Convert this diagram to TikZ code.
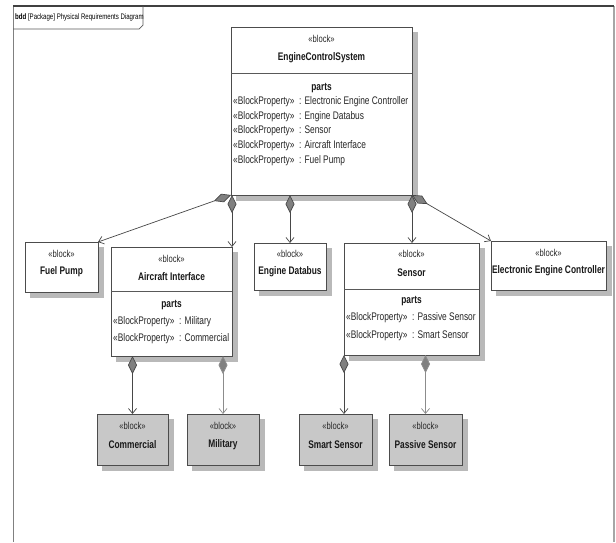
\documentclass[tikz,border=0pt]{standalone}
\usepackage{fontspec}
\setmainfont{Liberation Sans}[FakeStretch=0.76]
\usetikzlibrary{arrows.meta}
\definecolor{shadowgray}{RGB}{185,185,185}
\definecolor{leafgray}{RGB}{200,200,200}
\begin{document}
\begin{tikzpicture}[x=1pt,y=-1pt,
  blk/.style={draw=black!70, line width=0.9pt, fill=white, anchor=north west,
    inner sep=0pt, outer sep=0pt},
  gblk/.style={blk, fill=leafgray},
  shadowline/.style={draw=shadowgray, line width=5.5pt, line cap=butt},
  st/.style={font=\fontsize{10}{11}\selectfont, inner sep=0pt, text=black!85},
  ti/.style={font=\fontsize{11}{12}\selectfont\bfseries, inner sep=0pt, text=black!90},
  pr/.style={font=\fontsize{11}{12}\selectfont, inner sep=0pt, anchor=west, text=black!85},
  sepline/.style={draw=black!65, line width=0.8pt},
  comp/.style={draw=black!72, line width=0.7pt,
    {Diamond[length=18pt,width=9pt,fill=black!50]}-{Straight Barb[length=5pt,width=8pt]}},
  compl/.style={comp, draw=black!45}
]
\useasboundingbox (0,0) rectangle (616,542);
% frame
\draw[black!50, line width=1pt] (13,6) -- (13,542);
\draw[black!35, line width=1.2pt] (614,6) -- (614,542);
\draw[black!75, line width=1.2pt] (13,6) -- (614,6);
\draw[black!65, line width=0.7pt] (13,29) -- (139,29) -- (143,25) -- (143,6);
\node[font=\fontsize{8}{9}\selectfont, anchor=west, inner sep=0pt] (tab) at (15,17.5) {\textbf{bdd} [Package] Physical Requirements Diagram};

% EngineControlSystem
\node[blk, minimum width=181pt, minimum height=168pt] (ecs) at (231,27) {};
\node[st] (ecs1) at (321.5,39) {«block»};
\node[ti] (ecs2) at (321.5,58) {EngineControlSystem};
\draw[sepline] (ecs.west |- 0,73) -- (ecs.east |- 0,73);
\node[ti] (ecs3) at (321.5,88) {parts};
\node[pr] (ecs4) at (233,102) {«BlockProperty»\ \ : Electronic Engine Controller};
\node[pr] (ecs5) at (233,117) {«BlockProperty»\ \ : Engine Databus};
\node[pr] (ecs6) at (233,131) {«BlockProperty»\ \ : Sensor};
\node[pr] (ecs7) at (233,146) {«BlockProperty»\ \ : Aircraft Interface};
\node[pr] (ecs8) at (233,161) {«BlockProperty»\ \ : Fuel Pump};

% Fuel Pump
\node[blk, minimum width=73pt, minimum height=50pt] (fp) at (25,242) {};
\node[st] (fp1) at (61.5,254) {«block»};
\node[ti] (fp2) at (61.5,272) {Fuel Pump};

% Aircraft Interface
\node[blk, minimum width=121pt, minimum height=109pt] (ai) at (111,247) {};
\node[st] (ai1) at (171.5,259) {«block»};
\node[ti] (ai2) at (171.5,277) {Aircraft Interface};
\draw[sepline] (ai.west |- 0,291) -- (ai.east |- 0,291);
\node[ti] (ai3) at (171.5,305) {parts};
\node[pr] (ai4) at (113,322) {«BlockProperty»\ \ : Military};
\node[pr] (ai5) at (113,339) {«BlockProperty»\ \ : Commercial};

% Engine Databus
\node[blk, minimum width=72pt, minimum height=47pt] (ed) at (254,243) {};
\node[st] (ed1) at (290,254) {«block»};
\node[ti] (ed2) at (290,272) {Engine Databus};

% Sensor
\node[blk, minimum width=135pt, minimum height=112pt] (sen) at (344,243) {};
\node[st] (sen1) at (411.5,254) {«block»};
\node[ti] (sen2) at (411.5,273) {Sensor};
\draw[sepline] (sen.west |- 0,289) -- (sen.east |- 0,289);
\node[ti] (sen3) at (411.5,301) {parts};
\node[pr] (sen4) at (346,318) {«BlockProperty»\ \ : Passive Sensor};
\node[pr] (sen5) at (346,336) {«BlockProperty»\ \ : Smart Sensor};

% Electronic Engine Controller
\node[blk, minimum width=115pt, minimum height=49pt] (eec) at (491,241) {};
\node[st] (eec1) at (548.5,253) {«block»};
\node[ti] (eec2) at (548.5,271) {Electronic Engine Controller};

% grey leaf blocks
\node[gblk, minimum width=71pt, minimum height=51pt] (com) at (97,414) {};
\node[st] (com1) at (132.5,426) {«block»};
\node[ti] (com2) at (132.5,445) {Commercial};

\node[gblk, minimum width=72pt, minimum height=51pt] (mil) at (187,414) {};
\node[st] (mil1) at (223,426) {«block»};
\node[ti] (mil2) at (223,445) {Military};

\node[gblk, minimum width=73pt, minimum height=51pt] (sms) at (299,414) {};
\node[st] (sms1) at (335.5,426) {«block»};
\node[ti] (sms2) at (335.5,445) {Smart Sensor};

\node[gblk, minimum width=73pt, minimum height=51pt] (pss) at (389,414) {};
\node[st] (pss1) at (425.5,426) {«block»};
\node[ti] (pss2) at (425.5,445) {Passive Sensor};

% drop shadows as L-shaped strips along the bottom and right edges
\foreach \b in {ecs,fp,ai,ed,sen,eec,com,mil,sms,pss} {
  \draw[shadowline] ([xshift=5pt,yshift=-3.3pt]\b.south west) -- ([xshift=3.3pt,yshift=-3.3pt]\b.south east)
     -- ([xshift=3.3pt,yshift=-5pt]\b.north east);
}

% connectors
\draw[comp] (ecs.south west) -- (fp.north east);
\draw[comp] (ecs.south -| ai.north east) -- (ai.north east);
\draw[comp] (ecs.south -| ed.north) -- (ed.north);
\draw[comp] (ecs.south east) -- (ecs.south east |- sen.north);
\draw[comp] (ecs.south east) -- (eec.north west);
\draw[comp] (ai.south -| com.north) -- (com.north);
\draw[compl] (ai.south -| mil.north) -- (mil.north);
\draw[comp] (sen.south west) -- (sen.south west |- sms.north);
\draw[compl] (sen.south -| pss.north) -- (pss.north);
\end{tikzpicture}
\end{document}
